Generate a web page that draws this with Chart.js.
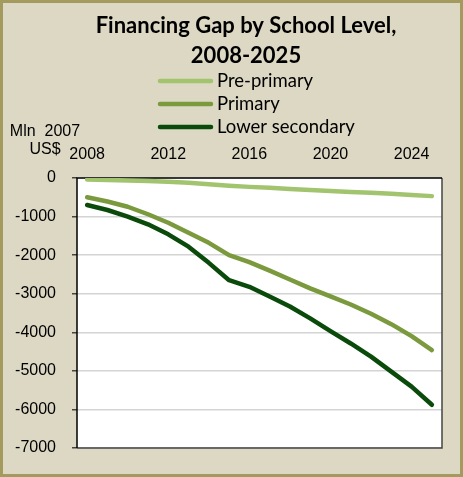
<!DOCTYPE html>
<html>
<head>
<meta charset="utf-8">
<title>Financing Gap by School Level, 2008-2025</title>
<script src="https://cdn.jsdelivr.net/npm/chart.js@4/dist/chart.umd.min.js"></script>
<style>
  html, body { margin: 0; padding: 0; background: #ddd8c4; }
  #wrap { width: 463px; height: 477px; }
</style>
</head>
<body>
<div id="wrap"><canvas id="chart" width="463" height="477"></canvas></div>
<script>
// Years on the category axis
const years = ['2008','2009','2010','2011','2012','2013','2014','2015','2016',
               '2017','2018','2019','2020','2021','2022','2023','2024','2025'];

// Financing gap, million 2007 US$
const prePrimary = [-40, -50, -65, -80, -100, -125, -160, -200, -230,
                    -255, -285, -310, -335, -360, -385, -410, -440, -470];
const primary = [-500, -610, -745, -940, -1160, -1420, -1680, -2000, -2180,
                 -2400, -2630, -2860, -3070, -3280, -3520, -3790, -4100, -4460];
const lowerSecondary = [-700, -830, -1000, -1200, -1460, -1780, -2200, -2650, -2820,
                        -3070, -3330, -3640, -3970, -4290, -4630, -5020, -5410, -5880];

const seriesNames = ['Pre-primary', 'Primary', 'Lower secondary'];
const seriesColors = ['#a3c46e', '#7a9a3d', '#0a4a0a'];

const titleLines = ['Financing Gap by School Level,', '2008-2025'];
const axisTitleLines = ['Mln  2007', 'US$'];

const yMin = -7000, yMax = 0, yStep = 1000;

const tickFont = { family: '"Liberation Sans", Arial, sans-serif', size: 16 };

// Panel background, title, legend and axis caption
const decorations = {
  id: 'decorations',
  beforeDraw(chart) {
    const ctx = chart.ctx, w = chart.width, h = chart.height;
    ctx.save();
    ctx.fillStyle = '#ddd8c4';
    ctx.fillRect(0, 0, w, h);
    ctx.strokeStyle = '#a39a5e';
    ctx.lineWidth = 3;
    ctx.strokeRect(1.5, 1.5, w - 3, h - 3);
    const a = chart.chartArea;
    ctx.fillStyle = '#ffffff';
    ctx.fillRect(a.left, a.top, a.right - a.left, a.bottom - a.top);
    ctx.restore();
  },
  beforeDatasetsDraw(chart) {
    const ctx = chart.ctx, a = chart.chartArea;
    ctx.save();
    ctx.lineWidth = 1.5;
    ctx.strokeStyle = '#444444';
    ctx.beginPath();
    ctx.moveTo(a.left, a.bottom);
    ctx.lineTo(a.right, a.bottom);
    ctx.lineTo(a.right, a.top);
    ctx.stroke();
    ctx.strokeStyle = '#000000';
    ctx.beginPath();
    ctx.moveTo(a.right, a.top);
    ctx.lineTo(a.left, a.top);
    ctx.lineTo(a.left, a.bottom);
    ctx.stroke();
    ctx.restore();
  },
  afterDraw(chart) {
    const ctx = chart.ctx;
    ctx.save();
    // title
    ctx.fillStyle = '#000000';
    ctx.textAlign = 'center';
    ctx.textBaseline = 'alphabetic';
    ctx.font = 'bold 22px Lato, "Open Sans", sans-serif';
    ctx.fillText(titleLines[0], 246, 33);
    ctx.fillText(titleLines[1], 246, 63);

    // legend, one row per series
    const rows = [81, 104, 127];
    chart.data.datasets.forEach((ds, i) => {
      const y = rows[i];
      ctx.strokeStyle = ds.borderColor;
      ctx.lineWidth = 4.5;
      ctx.lineCap = 'round';
      ctx.beginPath();
      ctx.moveTo(160, y);
      ctx.lineTo(211, y);
      ctx.stroke();
      ctx.fillStyle = '#000000';
      ctx.textAlign = 'left';
      ctx.textBaseline = 'middle';
      ctx.font = '18.5px Lato, "Open Sans", sans-serif';
      ctx.fillText(ds.label, 217, y);
    });

    // value axis caption
    ctx.textAlign = 'center';
    ctx.textBaseline = 'alphabetic';
    ctx.font = '16px "Liberation Sans", Arial, sans-serif';
    ctx.fillText(axisTitleLines[0], 45, 136);
    ctx.fillText(axisTitleLines[1], 45, 154);
    ctx.restore();
  }
};

const datasets = [prePrimary, primary, lowerSecondary].map((values, i) => ({
  label: seriesNames[i],
  data: values,
  borderColor: seriesColors[i],
  backgroundColor: seriesColors[i],
  borderWidth: 4.5,
  pointRadius: 0,
  pointHoverRadius: 0,
  tension: 0,
  borderCapStyle: 'round',
  borderJoinStyle: 'round',
  fill: false
}));

new Chart(document.getElementById('chart'), {
  type: 'line',
  data: { labels: years, datasets },
  options: {
    responsive: false,
    animation: false,
    devicePixelRatio: 1,
    layout: { padding: { top: 140, left: 0, right: 21, bottom: 29 } },
    plugins: {
      legend: { display: false },
      title: { display: false },
      tooltip: { enabled: false }
    },
    scales: {
      x: {
        type: 'category',
        position: 'top',
        offset: true,
        grid: { display: false, drawTicks: false },
        border: { display: false },
        ticks: {
          autoSkip: false,
          maxRotation: 0,
          minRotation: 0,
          padding: 14,
          color: '#000000',
          font: tickFont,
          callback(value, index) {
            return index % 4 === 0 ? years[index] : '';
          }
        },
        afterFit(scale) { scale.height = 38; }
      },
      y: {
        min: yMin,
        max: yMax,
        grid: {
          color: '#d4d4d4',
          lineWidth: 1.5,
          drawTicks: true,
          tickLength: 5,
          tickColor: '#444444'
        },
        border: { display: false },
        ticks: {
          stepSize: yStep,
          padding: 16,
          color: '#000000',
          font: tickFont,
          callback(value) { return String(value); }
        },
        afterFit(scale) { scale.width = 77; }
      }
    }
  },
  plugins: [decorations]
});
</script>
</body>
</html>
